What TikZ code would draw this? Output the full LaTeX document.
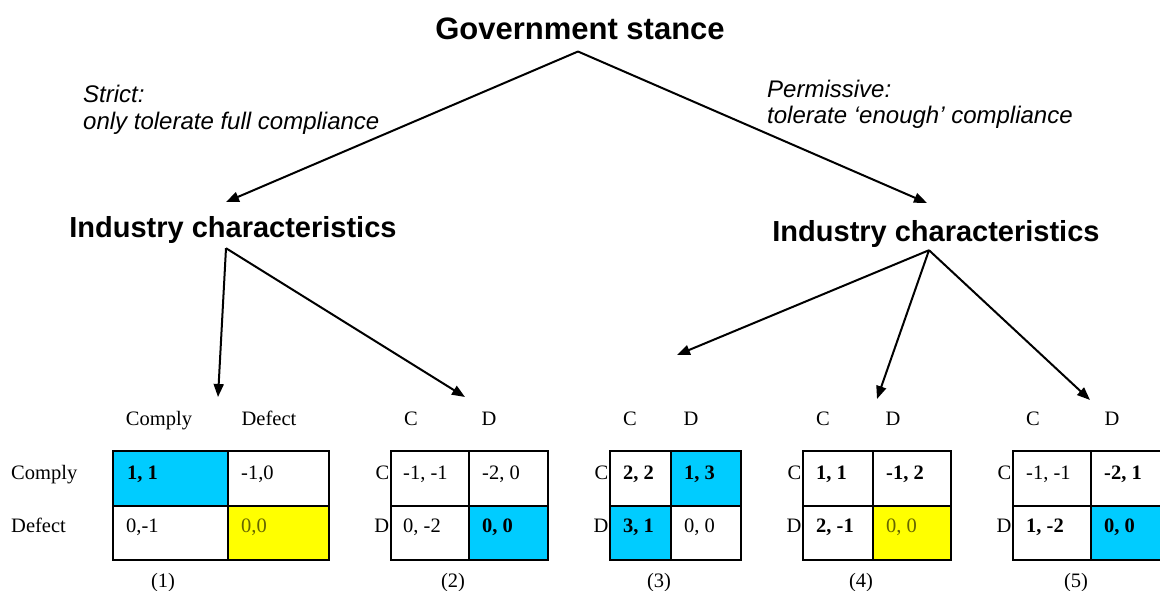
\documentclass[tikz,border=0pt]{standalone}
\usepackage{fontspec}
\setmainfont{Liberation Serif}
\setsansfont{Liberation Sans}
\usetikzlibrary{arrows.meta}
\definecolor{nashcyan}{HTML}{00CCFF}
\definecolor{nashyellow}{HTML}{FFFF00}
\definecolor{nasholive}{HTML}{666600}
\tikzset{
branch/.style={-{Triangle[length=13pt,width=10pt]},line width=2pt},
head/.style={font=\sffamily\bfseries\fontsize{29}{34}\selectfont,inner sep=0pt,anchor=base},
stance/.style={font=\sffamily\itshape\fontsize{24}{27}\selectfont,inner sep=0pt,anchor=base west},
grid/.style={line width=2pt},
lab/.style={font=\fontsize{20.5}{24}\selectfont,inner sep=0pt,anchor=base},
cell/.style={font=\fontsize{20.5}{24}\selectfont,inner sep=0pt,anchor=base west}
}
\begin{document}
\begin{tikzpicture}[x=1pt,y=-1pt]
\useasboundingbox(0,0) rectangle (1160,591);
\clip(0,0) rectangle (1160,591);
\pgfmathsetmacro{\mtop}{451}
\pgfmathsetmacro{\mmid}{506}
\pgfmathsetmacro{\mbot}{560}
\node[head,font=\sffamily\bfseries\fontsize{31}{36}\selectfont](gov) at (580,40){Government stance};
\node[head](icl) at (233,237){Industry characteristics};
\node[head](icr) at (936,241){Industry characteristics};
\node[stance](sl1) at (83,103){Strict:};
\node[stance](sl2) at (83,130){only tolerate full compliance};
\node[stance](pl1) at (767,98){Permissive:};
\node[stance](pl2) at (767,124){tolerate ‘enough’ compliance};
\coordinate(tl) at (226,202);
\coordinate(tr) at (927,203);
\foreach \x/\y [count=\i] in {218/397,465/397,677/355,877/399,1090/400}{\coordinate(m\i) at (\x,\y);}
\draw[branch]([xshift=-2pt,yshift=-11pt]gov.south)--(tl);
\draw[branch]([xshift=-2pt,yshift=-11pt]gov.south)--(tr);
\draw[branch]([xshift=-7pt,yshift=-5pt]icl.south)--(m1);
\draw[branch]([xshift=-7pt,yshift=-5pt]icl.south)--(m2);
\foreach \i in {3,4,5}{\draw[branch]([xshift=-7pt,yshift=-3pt]icr.south)--(m\i);}
\foreach \a/\b/\c/\d/\f in {113/\mtop/228/\mmid/nashcyan,228/\mmid/329/\mbot/nashyellow,469/\mmid/548/\mbot/nashcyan,671/\mtop/741/\mmid/nashcyan,610/\mmid/671/\mbot/nashcyan,873/\mmid/951/\mbot/nashyellow,1091/\mmid/1170/\mbot/nashcyan}{\fill[\f](\a,\b) rectangle (\c,\d);}
\foreach \l/\m/\r in {113/228/329,391/469/548,610/671/741,803/873/951,1013/1091/1170}{\draw[grid](\l,\mtop) rectangle (\r,\mbot) (\m,\mtop)--(\m,\mbot) (\l,\mmid)--(\r,\mmid);}
\foreach \x/\t [count=\i] in {159/Comply,269/Defect,411/C,489/D,630/C,691/D,823/C,893/D,1033/C,1112/D}{\node[lab](h\i) at (\x,425){\t};}
\node[cell](r1) at (11,479){Comply};
\node[cell](r2) at (11,532){Defect};
\foreach \x [count=\i] in {389.5,608.5,801.5,1011.5}{\node[lab,anchor=base east](rc\i) at (\x,479){C};\node[lab,anchor=base east](rd\i) at (\x,532){D};}
\foreach \x [count=\i] in {163,453,659,861,1076}{\node[lab](n\i) at (\x,587){(\i)};}
\foreach \x/\y/\t [count=\i] in {127/479/{\textbf{1, 1}},241/479/{-1,0},126/532/{0,-1},241/532/{\color{nasholive}0,0},
403/479/{-1, -1},482/479/{-2, 0},403/532/{0, -2},482/532/{\textbf{0, 0}},
623/479/{\textbf{2, 2}},684/479/{\textbf{1, 3}},623/532/{\textbf{3, 1}},684/532/{0, 0},
816/479/{\textbf{1, 1}},886/479/{\textbf{-1, 2}},816/532/{\textbf{2, -1}},886/532/{\color{nasholive}0, 0},
1026/479/{-1, -1},1104/479/{\textbf{-2, 1}},1026/532/{\textbf{1, -2}},1104/532/{\textbf{0, 0}}}{\node[cell](v\i) at (\x,\y){\t};}
\end{tikzpicture}
\end{document}
